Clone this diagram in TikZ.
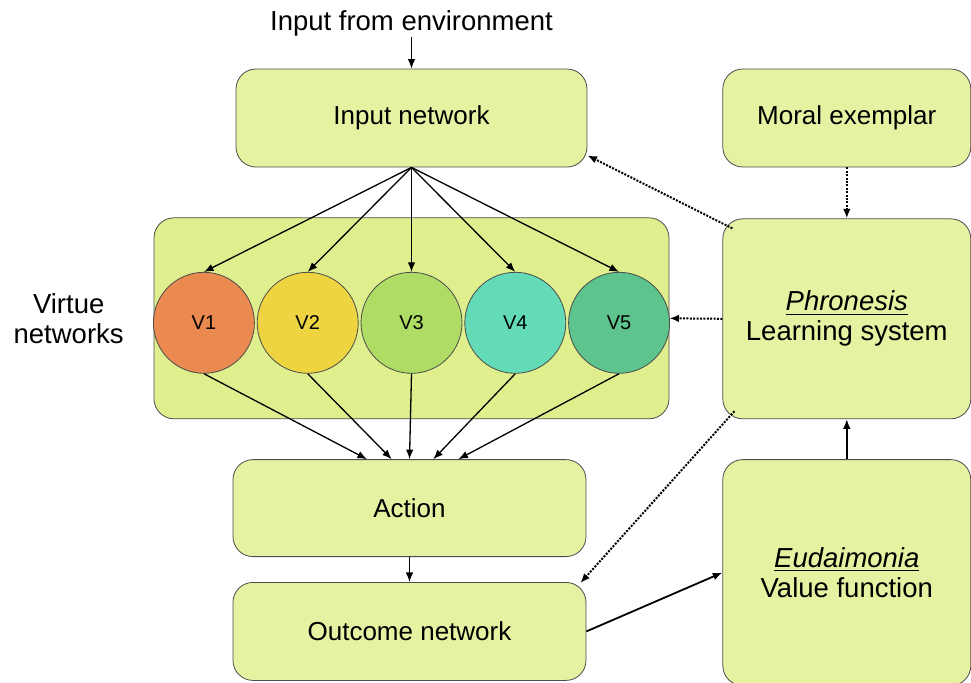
\documentclass[tikz,border=0pt]{standalone}
\usepackage{fontspec}
\setmainfont{Liberation Sans}
\usetikzlibrary{positioning,calc,arrows.meta}

\definecolor{boxfill}{HTML}{E4F2A2}
\definecolor{groupfill}{HTML}{DFEF8E}
\definecolor{vone}{HTML}{EB8A50}
\definecolor{vtwo}{HTML}{EDD440}
\definecolor{vthree}{HTML}{AEDC64}
\definecolor{vfour}{HTML}{63DBB6}
\definecolor{vfive}{HTML}{5CC48C}

\tikzset{
    block/.style={draw=black!70, fill=boxfill, rounded corners=10pt, inner sep=0pt,
        align=center, font=\fontsize{13}{15}\selectfont},
    bigtext/.style={align=center, inner sep=0pt, font=\fontsize{13.75}{15}\selectfont},
    virtue/.style={circle, draw=black!70, minimum size=50.5pt, inner sep=0pt,
        font=\fontsize{10}{12}\selectfont},
    link/.style={-{Latex[length=4.8pt,width=3.8pt]}, line width=0.65pt},
    hint/.style={link, line width=1pt, dash pattern=on 1pt off 0.7pt},
}

\begin{document}
\begin{tikzpicture}
    \useasboundingbox (0,0) rectangle (485.5pt,-341pt);

    \node [block, minimum width=175.5pt, minimum height=49pt] (input) at (205.75pt,-59pt) {Input network};
    \node [bigtext, above=16pt of input] (env) {Input from environment};
    \node [block, minimum width=124pt, minimum height=49pt, right=67.5pt of input] (moral) {Moral exemplar};
    \node [block, fill=groupfill, minimum width=257.5pt, minimum height=100.5pt, below=25pt of input] (virtues) {};
    \node [bigtext, left=14.75pt of virtues] (vlabel) {Virtue\\networks};
    \node [block, font=\fontsize{13.75}{15}\selectfont, minimum width=124pt, minimum height=100pt,
        below=25.5pt of moral] (phron) {\underline{\textit{Phronesis}}\\Learning system};
    \node [block, minimum width=176.5pt, minimum height=48.5pt, below=20pt of virtues, xshift=-1pt] (action) {Action};
    \node [block, minimum width=176.5pt, minimum height=49pt, below=12.5pt of action] (outcome) {Outcome network};
    \node [block, font=\fontsize{13.75}{15}\selectfont, minimum width=124pt, minimum height=113pt,
        below=20pt of phron] (eud) {\underline{\textit{Eudaimonia}}\\Value function};

    % the five virtue networks
    \node [virtue, fill=vthree, yshift=-2.25pt] (v3) at (virtues.center) {V3};
    \node [virtue, fill=vtwo, left=1pt of v3] (v2) {V2};
    \node [virtue, fill=vone, left=1pt of v2] (v1) {V1};
    \node [virtue, fill=vfour, right=1pt of v3] (v4) {V4};
    \node [virtue, fill=vfive, right=1pt of v4] (v5) {V5};

    \draw [link] (env) -- (input);
    \draw [link] (input.south) -- (v1.north);
    \draw [link] (input.south) -- (v2.north);
    \draw [link] (input.south) -- (v3.north);
    \draw [link] (input.south) -- (v4.north);
    \draw [link] (input.south) -- (v5.north);
    \draw [link] (v1.south) -- (action.131);
    \draw [link] (v2.south) -- (action.110);
    \draw [link] (v3.south) -- (action.90.6);
    \draw [link] (v4.south) -- (action.64);
    \draw [link] (v5.south) -- (action.45);
    \draw [link] (action) -- (outcome);
    \draw [link, line width=0.9pt] (outcome.east) -- (eud.west);
    \draw [link, line width=0.8pt] (eud) -- (phron);

    % feedback from the learning system
    \draw [hint] (moral) -- (phron);
    \draw [hint] (phron.west) -- (virtues.east);
    \draw [hint] ($(phron.north west)+(5pt,-5pt)$) -- (input.-12.5);
    \draw [hint] ($(phron.south west)+(6pt,4pt)$) -- ($(outcome.north east)+(-3pt,-0.5pt)$);
\end{tikzpicture}
\end{document}
